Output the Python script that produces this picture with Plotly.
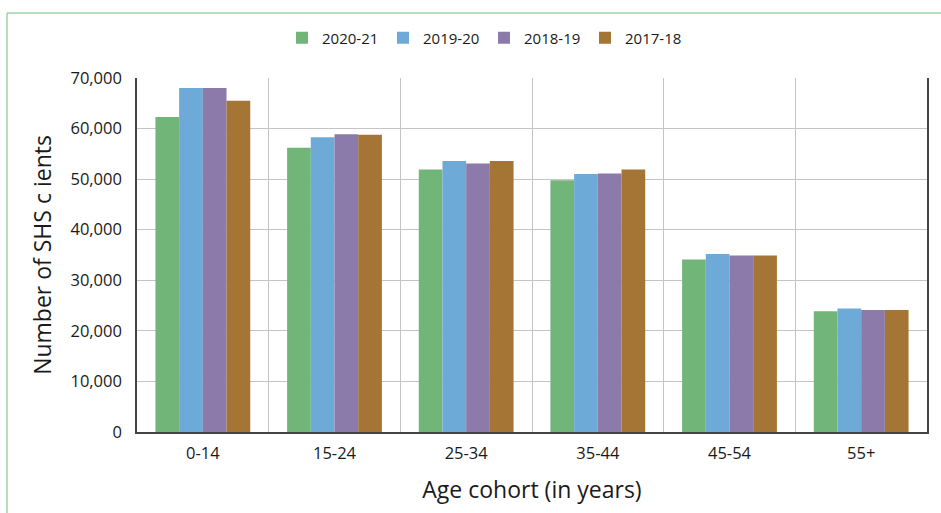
import plotly.graph_objects as go

# Age cohorts and client counts by financial year
cohorts = ["0-14", "15-24", "25-34", "35-44", "45-54", "55+"]
years = ["2020-21", "2019-20", "2018-19", "2017-18"]
clients_2020_21 = [62300, 56200, 51900, 49800, 34100, 23900]
clients_2019_20 = [68000, 58300, 53600, 51000, 35200, 24400]
clients_2018_19 = [68000, 58900, 53100, 51100, 34900, 24100]
clients_2017_18 = [65500, 58800, 53600, 51900, 34900, 24100]
series = [clients_2020_21, clients_2019_20, clients_2018_19, clients_2017_18]
colors = ["#71b578", "#6eaad8", "#8c7aaa", "#a57535"]

W, H = 941, 513
ML, MR, MT, MB = 137, 14, 78, 81
FONT = "'Open Sans', 'Noto Sans', sans-serif"

fig = go.Figure()
for name, vals, col in zip(years, series, colors):
    fig.add_trace(go.Bar(
        name=name, x=cohorts, y=vals,
        marker=dict(color=col, line=dict(width=0)),
    ))

pw = W - ML - MR
ph = H - MT - MB


def px_x(p):
    return (p - ML) / pw


def px_y(p):
    return (H - MB - p) / ph


# thin green frame around the figure (top and left edges visible)
frame_col = "#9fd3a0"
fig.add_shape(type="line", xref="paper", yref="paper",
              x0=px_x(7), x1=px_x(W + 5), y0=px_y(13), y1=px_y(13),
              line=dict(color=frame_col, width=1.5))
fig.add_shape(type="line", xref="paper", yref="paper",
              x0=px_x(7), x1=px_x(7), y0=px_y(13), y1=px_y(H + 5),
              line=dict(color=frame_col, width=1.5))

fig.update_layout(
    width=W, height=H,
    margin=dict(l=ML, r=MR, t=MT, b=MB),
    paper_bgcolor="white", plot_bgcolor="white",
    font=dict(family=FONT, color="#1a1a1a"),
    barmode="group", bargap=0.28, bargroupgap=0,
    legend=dict(orientation="h", x=px_x(484), xanchor="center", y=px_y(38), yanchor="middle",
                font=dict(size=15), itemwidth=30, entrywidth=56, tracegroupgap=0),
    showlegend=True,
)
fig.update_xaxes(
    type="category", tickson="boundaries", showgrid=True, gridcolor="#c4c4c4", gridwidth=1.3,
    showline=True, linecolor="#444444", linewidth=1.5, mirror=False,
    ticks="", tickfont=dict(size=16.5), ticklabelstandoff=5,
    title=dict(text="Age cohort (in years)", font=dict(size=23), standoff=19),
)
fig.update_yaxes(
    range=[0, 70000], dtick=10000, tickformat=",", showgrid=True, gridcolor="#c4c4c4", gridwidth=1.3,
    showline=True, linecolor="#444444", linewidth=1.5, mirror=True,
    ticks="", tickfont=dict(size=16.5), ticklabelstandoff=10, zeroline=False,
    title=dict(text="Number of SHS c ients", font=dict(size=23), standoff=12),
)

fig.write_html("out.html")
